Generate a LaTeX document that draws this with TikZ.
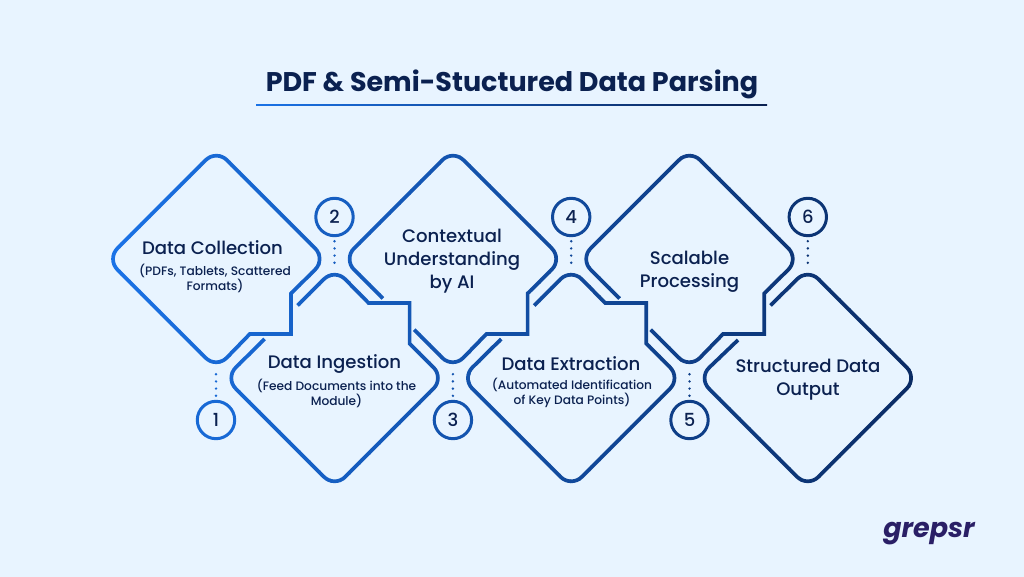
\documentclass[tikz,border=0pt]{standalone}
\usepackage{xcolor}
\usepackage{fontspec}
\usepackage{tikz}
\usetikzlibrary{calc}
\setmainfont{Poppins}
\newfontfamily\midfont{Poppins Medium}
\newfontfamily\logofont{Poppins}
\definecolor{pagebg}{HTML}{E8F4FF}
\definecolor{startblue}{HTML}{1A72E6}
\definecolor{endnavy}{HTML}{0A2A62}
\definecolor{inkblue}{HTML}{0B2150}
\definecolor{logoink}{HTML}{2A1F66}
\tikzset{
 outline/.style={line width=3.7, line join=miter},
 numcircle/.style={circle, draw=#1, line width=3, minimum size=37.4, inner sep=0, outer sep=0, text=inkblue, font=\midfont\fontsize{18}{18}\selectfont},
 dots/.style={draw=#1, line width=2.7, line cap=round, dash pattern=on 0pt off 7.2pt, shorten <=5.5},
 headtext/.style={text=inkblue, align=center, inner sep=0, font=\midfont\fontsize{18.1}{23}\selectfont},
 subtext/.style={text=inkblue, align=center, inner sep=0, font=\midfont\fontsize{12.2}{15}\selectfont},
}
% colour along the picture, from left to right
\newcommand{\mixat}[1]{\pgfmathtruncatemacro{\pct}{min(100,max(0,(#1-105)/8.1))}\colorlet{mixed}{endnavy!\pct!startblue}}
\newcommand{\alloutlines}{
 \draw[outline, rounded corners=15] (291,293.5) -- (325.8,259) -- (216.3,149.5) -- (106.8,259) -- (216.3,368.5) [sharp corners] -- (249.8,334) -- (291,334) -- cycle;
 \foreach \cx in {452.9,689.5} {
  \draw[outline, shift={(\cx,0)}, rounded corners=15] (-38.8,329.7) -- (0,368.5) [sharp corners] -- (33.5,334) -- (74.7,334) -- (74.7,293.5) [rounded corners=15] -- (109.5,259) -- (0,149.5) -- (-109.5,259) -- (-70,298.5);
 }
 \foreach \cx in {334.6,571.2} {
  \draw[outline, shift={(\cx,0)}, rounded corners=15] (-70,339) -- (-109.5,378) -- (0,487.5) -- (109.5,378) [sharp corners] -- (75,343.5) -- (75,303) -- (34,303) [rounded corners=15] -- (0,268.5) -- (-37,305.5);
 }
 \draw[outline, rounded corners=15] (738,340) -- (698.3,378) -- (807.8,487.5) -- (917.3,378) -- (807.8,268.5) -- (770.5,305.5);
}

\begin{document}
\begin{tikzpicture}[x=1pt, y=-1pt]
\useasboundingbox[fill=pagebg] (0,0) rectangle (1024,577);

\node[text=inkblue, inner sep=0, font=\bfseries\fontsize{27}{30}\selectfont] (title) at (512,84) {PDF \& Semi-Stuctured Data Parsing};
\shade[left color=startblue, right color=inkblue] (256,104.2) rectangle (767,106);

\foreach \i in {0,...,81} {
 \mixat{100+10*\i}
 \begin{scope}
 \clip ({100+10*\i},140) rectangle ({110.6+10*\i},495);
 \color{mixed}
 \alloutlines
 \end{scope}
}

% number circles and their dots
\foreach \n/\x/\y/\ty/\side in {1/216/420/373/north, 3/452.9/420/373/north, 5/689.5/420/373/north, 2/334.5/217/264.5/south, 4/571.2/217/264.5/south, 6/807.8/217/264.5/south} {
 \mixat{\x}
 \node[numcircle=mixed] (c\n) at (\x,\y) {\n};
 \coordinate (t\n) at (\x,\ty);
 \draw[dots=mixed] (c\n.\side) -- (t\n);
}

\node[headtext] (collect) at (212.5,248) {Data Collection};
\node[subtext] (collectsub) at (215,278) {(PDFs, Tablets, Scattered\\Formats)};
\node[headtext] (ingest) at (334.5,364) {Data Ingestion};
\node[subtext] (ingestsub) at (336.5,393) {(Feed Documents into the\\Module)};
\node[headtext] (context) at (452,261) {Contextual\\Understanding\\by AI};
\node[headtext] (extract) at (571,364) {Data Extraction};
\node[subtext] (extractsub) at (572,393) {(Automated Identification\\of Key Data Points)};
\node[headtext] (scale) at (689.5,272) {Scalable\\Processing};
\node[headtext] (output) at (808,380) {Structured Data\\Output};

\node[text=logoink, inner sep=0, font=\logofont\bfseries\itshape\fontsize{27}{30}\selectfont] (logo) at (929,534) {grepsr};
\end{tikzpicture}
\end{document}
